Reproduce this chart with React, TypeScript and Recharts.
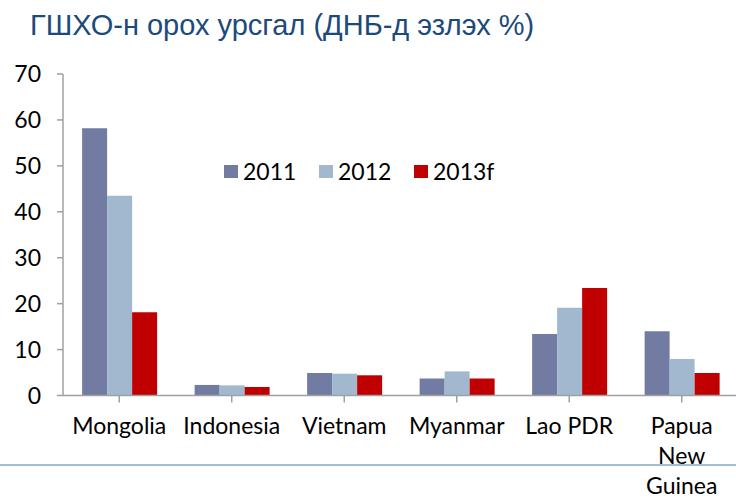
import { BarChart, Bar, XAxis, YAxis, Legend } from 'recharts';

const countries = ['Mongolia', 'Indonesia', 'Vietnam', 'Myanmar', 'Lao PDR', 'Papua\nNew\nGuinea'];
const fdi2011 = [58.2, 2.3, 4.9, 3.7, 13.4, 14.0];
const fdi2012 = [43.5, 2.2, 4.75, 5.25, 19.1, 7.95];
const fdi2013f = [18.1, 1.85, 4.4, 3.7, 23.4, 4.9];
const yTicks = [0, 10, 20, 30, 40, 50, 60, 70];

const SERIES = [
    { key: 'y2011', name: '2011', color: '#727ba1' },
    { key: 'y2012', name: '2012', color: '#a1b8cf' },
    { key: 'y2013f', name: '2013f', color: '#c00000' },
];

const FONT = 'Lato, "DejaVu Sans", sans-serif';

const data = countries.map((name, i) => ({
    name,
    y2011: fdi2011[i],
    y2012: fdi2012[i],
    y2013f: fdi2013f[i],
}));

const CategoryTick = ({ x, y, payload }: any) => {
    const lines = String(payload.value).split('\n');
    return (
        <text x={x} y={y} textAnchor="middle" fill="#000" fontSize={23} fontFamily={FONT}>
            {lines.map((line, i) => (
                <tspan key={i} x={x} dy={i === 0 ? '0.71em' : 30}>
                    {line}
                </tspan>
            ))}
        </text>
    );
};

const renderLegend = () => (
    <div style={{ display: 'flex', alignItems: 'center', fontFamily: FONT, fontSize: 23, color: '#000' }}>
        {SERIES.map((s) => (
            <div key={s.key} style={{ display: 'flex', alignItems: 'center', width: 95 }}>
                <span style={{ width: 14, height: 13, background: s.color, marginRight: 5, display: 'inline-block' }} />
                <span>{s.name}</span>
            </div>
        ))}
    </div>
);

export default function App() {
    return (
        <div style={{ position: 'absolute', left: 0, top: 0, width: 736, height: 501, overflow: 'hidden', background: '#fff' }}>
            <div
                style={{
                    position: 'absolute',
                    left: 30,
                    top: 9,
                    fontFamily: '"Liberation Sans", Arial, sans-serif',
                    fontSize: 29,
                    color: '#1c4a7c',
                    whiteSpace: 'nowrap',
                }}
            >
                ГШХО-н орох урсгал (ДНБ-д эзлэх %)
            </div>
            <div style={{ position: 'absolute', left: 0, top: 464, width: 736, height: 2, background: '#a4bcd4' }} />
            <div style={{ position: 'absolute', left: 0, top: 0 }}>
                <BarChart
                    width={740}
                    height={501}
                    data={data}
                    margin={{ top: 74, right: 2, left: 0, bottom: 75.5 }}
                    barCategoryGap="17%"
                    barGap={0}
                >
                    <XAxis
                        dataKey="name"
                        height={30}
                        interval={0}
                        tickSize={7}
                        tickMargin={15}
                        stroke="#a0a0a0"
                        strokeWidth={1.5}
                        tick={<CategoryTick />}
                    />
                    <YAxis
                        width={63}
                        domain={[0, 70]}
                        ticks={yTicks}
                        interval={0}
                        tickSize={6}
                        tickMargin={16}
                        stroke="#a0a0a0"
                        strokeWidth={1.5}
                        tick={{ fill: '#000', fontSize: 23, fontFamily: FONT }}
                    />
                    <Legend
                        content={renderLegend}
                        layout="horizontal"
                        verticalAlign="middle"
                        wrapperStyle={{ position: 'absolute', left: 224, top: 157, width: 300 }}
                    />
                    {SERIES.map((s) => (
                        <Bar
                            key={s.key}
                            dataKey={s.key}
                            name={s.name}
                            fill={s.color}
                            isAnimationActive={false}
                        />
                    ))}
                </BarChart>
            </div>
        </div>
    );
}
